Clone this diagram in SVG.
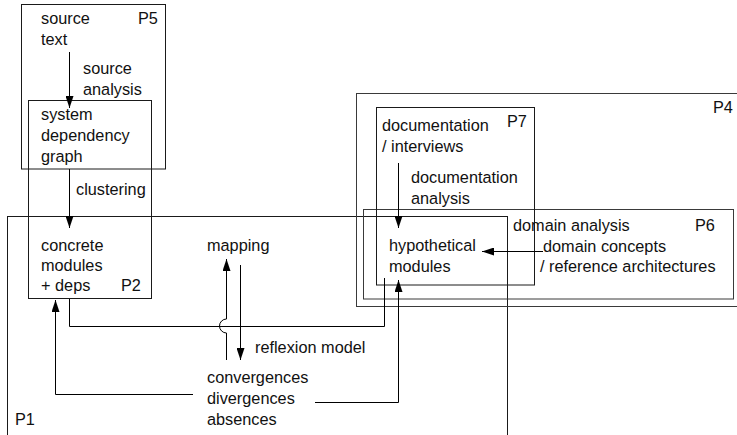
<svg xmlns="http://www.w3.org/2000/svg" width="737" height="435" viewBox="0 0 737 435">
  <style>
    .box { fill: none; stroke: #1a1a1a; stroke-width: 1; }
    .box.soft { stroke: #3a3a3a; }
    .edge { fill: none; stroke: #000; stroke-width: 1; }
    text { font-family: "Liberation Sans", Arial, Helvetica, sans-serif; font-size: 16.3px; fill: #111; }
  </style>
  <defs>
    <marker id="arrow" viewBox="0 0 12 8" refX="12" refY="4" markerWidth="12" markerHeight="8" orient="auto" markerUnits="userSpaceOnUse">
      <path d="M0,0 L12,4 L0,8 z" fill="#000"/>
    </marker>
  </defs>

  <rect width="737" height="435" fill="#fff"/>

  <!-- P1: reflexion model process (open at the bottom) -->
  <g id="p1">
    <rect class="box" x="7.5" y="216.5" width="500" height="240"/>
    <text x="15" y="425">P1</text>
  </g>

  <!-- P4: domain knowledge area -->
  <g id="p4">
    <rect class="box soft" x="356.5" y="93.5" width="400" height="213"/>
    <text x="713" y="113">P4</text>
  </g>

  <!-- P6: domain analysis -->
  <g id="p6">
    <rect class="box soft" x="363.5" y="209.5" width="370" height="89.5"/>
    <text x="513" y="231">domain analysis</text>
    <text x="695" y="231">P6</text>
  </g>

  <!-- P7: documentation -->
  <g id="p7">
    <rect class="box" x="376.5" y="107.5" width="158" height="177.5"/>
    <text x="382" y="131">documentation</text>
    <text x="382" y="152">/ interviews</text>
    <text x="507" y="127">P7</text>
  </g>

  <!-- P5: source analysis -->
  <g id="p5">
    <rect class="box" x="21.5" y="4.5" width="144" height="164.5"/>
    <text x="41" y="24">source</text>
    <text x="41" y="45">text</text>
    <text x="138" y="24">P5</text>
  </g>

  <!-- P2: dependency graph and clustering -->
  <g id="p2">
    <rect class="box" x="28.5" y="100.5" width="123" height="198"/>
    <text x="41" y="120">system</text>
    <text x="41" y="141">dependency</text>
    <text x="41" y="162">graph</text>
    <text x="41" y="251">concrete</text>
    <text x="41" y="271">modules</text>
    <text x="41" y="291">+ deps</text>
    <text x="121" y="291">P2</text>
  </g>

  <g id="source-analysis">
    <text x="83" y="74">source</text>
    <text x="83" y="95">analysis</text>
  </g>

  <g id="clustering">
    <text x="76" y="195">clustering</text>
  </g>

  <g id="mapping">
    <text x="207" y="251">mapping</text>
  </g>

  <g id="reflexion-model">
    <text x="255" y="353">reflexion model</text>
  </g>

  <g id="results">
    <text x="207" y="383">convergences</text>
    <text x="207" y="404">divergences</text>
    <text x="207" y="425">absences</text>
  </g>

  <g id="documentation-analysis">
    <text x="411" y="183">documentation</text>
    <text x="411" y="204">analysis</text>
  </g>

  <g id="hypothetical-modules">
    <text x="389" y="251">hypothetical</text>
    <text x="389" y="272">modules</text>
  </g>

  <g id="domain-concepts">
    <text x="543" y="252">domain concepts</text>
    <text x="540" y="272">/ reference architectures</text>
  </g>

  <!-- connectors -->
  <g id="connectors">
    <path class="edge" d="M69.5,52 V108" marker-end="url(#arrow)"/>
    <path class="edge" d="M69.5,169 V228" marker-end="url(#arrow)"/>
    <path class="edge" d="M398.5,163 V228" marker-end="url(#arrow)"/>
    <path class="edge" d="M543,251.5 H482" marker-end="url(#arrow)"/>
    <!-- concrete modules to hypothetical modules, crossed by the mapping line -->
    <path class="edge" d="M69.5,299 V326.5 H384.5 V278"/>
    <!-- results back to mapping, hopping over the line above -->
    <path class="edge" d="M226.5,360 V333 A7,7 0 0 1 226.5,319 V259" marker-end="url(#arrow)"/>
    <path class="edge" d="M240.5,265 V360" marker-end="url(#arrow)"/>
    <path class="edge" d="M193,394.5 H55.5 V300" marker-end="url(#arrow)"/>
    <path class="edge" d="M315,402.5 H398.5 V280" marker-end="url(#arrow)"/>
  </g>
</svg>
